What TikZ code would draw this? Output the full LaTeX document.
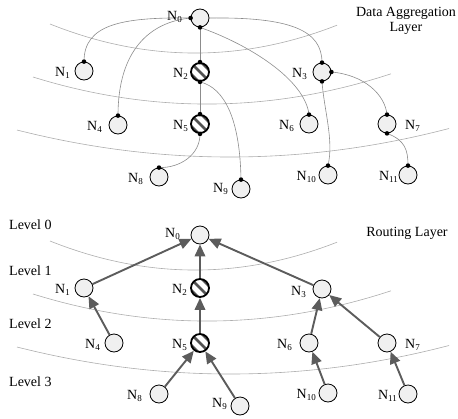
\documentclass[tikz,border=0pt]{standalone}
\usepackage{fontspec}
\setmainfont{Liberation Serif}
\usetikzlibrary{arrows.meta}
\pgfdeclarelayer{background}
\pgfsetlayers{background,main}
\definecolor{nodefill}{gray}{0.94}
\definecolor{linkgray}{gray}{0.55}
\definecolor{layergray}{gray}{0.68}
\definecolor{arrowgray}{gray}{0.36}
\definecolor{stripegray}{gray}{0.32}
% node label: N with a small lowered index
\newcommand{\nlab}[1]{N\raisebox{-2.5pt}{\fontsize{9}{9}\selectfont #1}}

\begin{document}
\begin{tikzpicture}[x=1pt,y=-1pt,
  sensor/.style={circle,draw=black,line width=0.8pt,fill=nodefill,minimum size=18pt,inner sep=0pt},
  hatched/.style={sensor,line width=1.8pt,fill=white,path picture={
     \foreach \a/\b in {-5.5/5.5,0/0,5.5/-5.5}
       \draw[stripegray,line width=2.5pt] ([shift={(\a-12,\b-12)}]path picture bounding box.center) -- ++(24,24);}},
  lab/.style={font=\fontsize{14}{15}\selectfont,inner sep=0pt},
  link/.style={draw=linkgray,line width=0.6pt},
  layer/.style={draw=layergray,line width=0.6pt},
  arr/.style={draw=arrowgray,line width=1.9pt,-{Triangle[length=12pt,width=10.5pt,fill=arrowgray]}},
  dotr/.style={fill=black}
]
\useasboundingbox (0,0) rectangle (458,418);

% ---------- layer boundaries ----------
\begin{pgfonlayer}{background}
\foreach \dy in {0,217}{
  \draw[layer] (50,24+\dy) .. controls (145.7,62.3+\dy) and (241.3,62.7+\dy) .. (337,25.2+\dy);
  \draw[layer] (33,77+\dy) .. controls (152.3,114.1+\dy) and (271.7,113+\dy) .. (391,73.8+\dy);
  \draw[layer] (17,130+\dy) .. controls (161,166.5+\dy) and (305,166+\dy) .. (449,128.5+\dy);
}
\end{pgfonlayer}

% ---------- data aggregation layer ----------
\node[sensor]  (a0)  at (200,18) {};
\node[sensor]  (a1)  at (84,71) {};
\node[hatched] (a2)  at (200,72) {};
\node[sensor]  (a3)  at (322,72) {};
\node[sensor]  (a4)  at (118,125) {};
\node[hatched] (a5)  at (200,124) {};
\node[sensor]  (a6)  at (309,124) {};
\node[sensor]  (a7)  at (387,124) {};
\node[sensor]  (a8)  at (159,177) {};
\node[sensor]  (a9)  at (241,189) {};
\node[sensor]  (a10) at (328,175) {};
\node[sensor]  (a11) at (408,175) {};

\begin{pgfonlayer}{background}
\draw[link] (a0.west) .. controls (120,17) and (84,25) .. (a1.north);
\draw[link] (a0.west) .. controls (150,22) and (118,50) .. (a4.north);
\draw[link] (a0.east) .. controls (290,17) and (322,30) .. (a3.north);
\draw[link] (a0.south) -- (a2.north);
\draw[link] (a0.south) .. controls (250,45) and (305,80) .. (a6.north);
\draw[link] (a2.south) -- (a5.north);
\draw[link] (a2.south) .. controls (225,88) and (240,120) .. (a9.north);
\draw[link] (a5.south) .. controls (200,155) and (180,168) .. (a8.north);
\draw[link] (a3.south) .. controls (324,110) and (334,140) .. (a10.north);
\draw[link] (a3.east) .. controls (365,75) and (385,95) .. (a7.north);
\draw[link] (a7.south) .. controls (405,140) and (408,150) .. (a11.north);
\end{pgfonlayer}

% link end points
\foreach \p in {a0.west,a0.south,a1.north,a2.north,a2.south,a3.north,a3.east,a3.south,
                a4.north,a5.north,a5.south,a6.north,a7.north,a7.south,a8.north,a9.north,
                a10.north,a11.north}
  \fill[dotr] (\p) circle (2.3);

\node[lab,anchor=base east] (la0)  at (182,20)  {\nlab{0}};
\node[lab,anchor=base east] (la1)  at (70,76)   {\nlab{1}};
\node[lab,anchor=base east] (la2)  at (188,77)  {\nlab{2}};
\node[lab,anchor=base east] (la3)  at (307,77)  {\nlab{3}};
\node[lab,anchor=base east] (la4)  at (102,130) {\nlab{4}};
\node[lab,anchor=base east] (la5)  at (188,129) {\nlab{5}};
\node[lab,anchor=base east] (la6)  at (294,129) {\nlab{6}};
\node[lab,anchor=base west] (la7)  at (405,129) {\nlab{7}};
\node[lab,anchor=base east] (la8)  at (143,182) {\nlab{8}};
\node[lab,anchor=base east] (la9)  at (228,192) {\nlab{9}};
\node[lab,anchor=base east] (la10) at (316,180) {\nlab{10}};
\node[lab,anchor=base east] (la11) at (398,180) {\nlab{11}};

\node[lab,align=center] (dal) at (406,21) {Data Aggregation\\Layer};

% ---------- routing layer ----------
\node[sensor]  (b0)  at (200,235) {};
\node[sensor]  (b1)  at (84,288) {};
\node[hatched] (b2)  at (200,288) {};
\node[sensor]  (b3)  at (322,289) {};
\node[sensor]  (b4)  at (114,343) {};
\node[hatched] (b5)  at (200,343) {};
\node[sensor]  (b6)  at (309,343) {};
\node[sensor]  (b7)  at (387,343) {};
\node[sensor]  (b8)  at (159,394) {};
\node[sensor]  (b9)  at (240,406) {};
\node[sensor]  (b10) at (328,393) {};
\node[sensor]  (b11) at (408,394) {};

\draw[arr] (b1) -- (b0);
\draw[arr] (b2) -- (b0);
\draw[arr] (b3) -- (b0);
\draw[arr] (b4) -- (b1);
\draw[arr] (b5) -- (b2);
\draw[arr] (b6) -- (b3);
\draw[arr] (b7) -- (b3);
\draw[arr] (b8) -- (b5);
\draw[arr] (b9) -- (b5);
\draw[arr] (b10) -- (b6);
\draw[arr] (b11) -- (b7);

\node[lab,anchor=base east] (lb0)  at (180,237) {\nlab{0}};
\node[lab,anchor=base east] (lb1)  at (70,293)  {\nlab{1}};
\node[lab,anchor=base east] (lb2)  at (187,293) {\nlab{2}};
\node[lab,anchor=base east] (lb3)  at (306,295) {\nlab{3}};
\node[lab,anchor=base east] (lb4)  at (100,348) {\nlab{4}};
\node[lab,anchor=base east] (lb5)  at (187,348) {\nlab{5}};
\node[lab,anchor=base east] (lb6)  at (292,348) {\nlab{6}};
\node[lab,anchor=base west] (lb7)  at (405,348) {\nlab{7}};
\node[lab,anchor=base east] (lb8)  at (142,399) {\nlab{8}};
\node[lab,anchor=base east] (lb9)  at (227,407) {\nlab{9}};
\node[lab,anchor=base east] (lb10) at (316,398) {\nlab{10}};
\node[lab,anchor=base east] (lb11) at (397,399) {\nlab{11}};

\node[lab] (rl) at (407,233) {Routing Layer};
\node[lab,anchor=west] (lv0) at (9,225) {Level 0};
\node[lab,anchor=west] (lv1) at (9,271) {Level 1};
\node[lab,anchor=west] (lv2) at (9,324) {Level 2};
\node[lab,anchor=west] (lv3) at (9,382) {Level 3};
\end{tikzpicture}
\end{document}
